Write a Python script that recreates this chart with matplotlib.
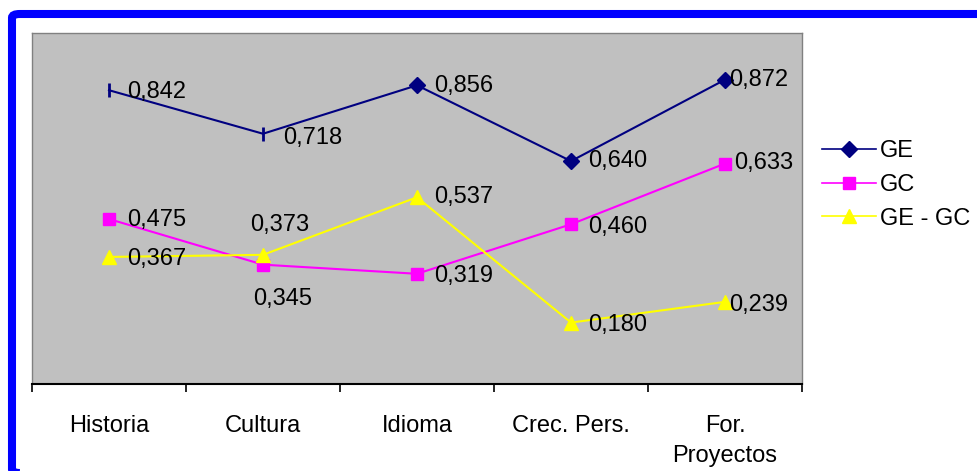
import matplotlib
matplotlib.use('Agg')
import matplotlib.pyplot as plt
from matplotlib.patches import FancyBboxPatch

plt.rcParams['font.family'] = ['Liberation Sans', 'DejaVu Sans']

categories = ['Historia', 'Cultura', 'Idioma', 'Crec. Pers.', 'For.\nProyectos']
ge = [0.842, 0.718, 0.856, 0.640, 0.872]
gc = [0.475, 0.345, 0.319, 0.460, 0.633]
ge_gc = [0.367, 0.373, 0.537, 0.180, 0.239]

# label offsets in pixels (dx, dy)
off_ge = [(18, -2), (20, -4), (17, -1), (17, 0), (4, 0)]
off_gc = [(18, -1), (-10, -34), (17, -2), (17, -3), (9, 1)]
off_gegc = [(18, -2), (-13, 30), (17, 0), (17, -2), (4, -3)]

W, H = 977, 471
fig = plt.figure(figsize=(W / 100, H / 100), dpi=100)

# blue frame around the chart
frame = FancyBboxPatch((12 / W, -2 / H), 1.0, 1 - 12 / H,
                       boxstyle='round,pad=0,rounding_size=0.008',
                       transform=fig.transFigure, fill=False,
                       edgecolor='#0000FF', linewidth=5.8, clip_on=False)
fig.patches.append(frame)

ax = fig.add_axes([32 / W, (H - 384) / H, (802 - 32) / W, (384 - 33) / H])
ax.set_facecolor('#C0C0C0')
x = list(range(len(categories)))

ax.plot(x, ge, color='#000080', lw=1.5, marker='D', ms=8, markevery=[2, 3, 4], label='GE')
ax.plot(x[:2], ge[:2], ls='none', color='#000080', marker='|', ms=10, mew=2)
ax.plot(x, gc, color='#FF00FF', lw=1.5, marker='s', ms=9, label='GC')
ax.plot(x, ge_gc, color='#FFFF00', lw=1.5, marker='^', ms=10, label='GE - GC')

fs = 17
for vals, offs in [(ge, off_ge), (gc, off_gc), (ge_gc, off_gegc)]:
    for i, v in enumerate(vals):
        ax.annotate(f'{v:.3f}'.replace('.', ','), (i, v), xytext=offs[i],
                    textcoords='offset pixels', ha='left', va='center',
                    fontsize=fs, color='black')

ax.set_xlim(-0.5, 4.5)
ax.set_ylim(0.005, 1.005)
ax.set_yticks([])
ax.set_xticks(x)
ax.set_xticklabels(categories, fontsize=fs, linespacing=1.5)
ax.set_xticks([i - 0.5 for i in range(6)], minor=True)
ax.tick_params(axis='x', which='major', length=0, pad=22)
ax.tick_params(axis='x', which='minor', length=6, width=1.2, direction='out', color='black')

for s in ['top', 'left', 'right']:
    ax.spines[s].set_color('#808080')
    ax.spines[s].set_linewidth(1)
ax.spines['bottom'].set_color('black')
ax.spines['bottom'].set_linewidth(1.5)

leg = ax.legend(loc='upper left', bbox_to_anchor=(822 / W, (H - 140) / H),
                bbox_transform=fig.transFigure, frameon=False, fontsize=fs,
                handlelength=2.3, handletextpad=0.15, labelspacing=0.5,
                borderpad=0, borderaxespad=0)
for line in leg.get_lines():
    line.set_linewidth(1.2)

fig.savefig('out.png', dpi=100)
